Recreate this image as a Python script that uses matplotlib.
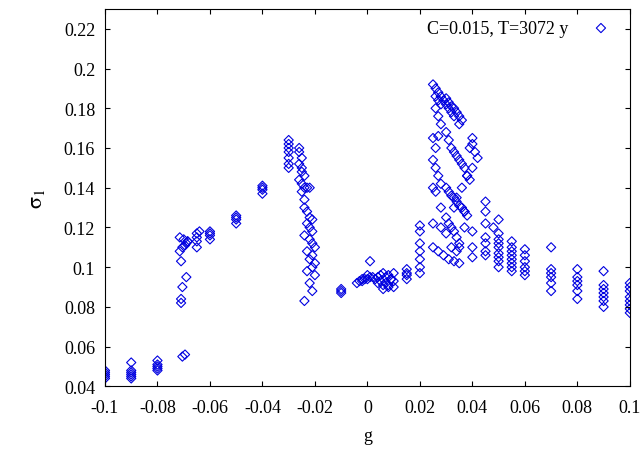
import matplotlib.pyplot as plt

# (g, sigma_1) values, grouped by cluster
g_left = [-0.1]*5 + [-0.09]*6 + [-0.08]*5
s_left = [0.044, 0.045, 0.046, 0.047, 0.048,
          0.044, 0.045, 0.046, 0.047, 0.048, 0.052,
          0.048, 0.049, 0.050, 0.051, 0.053]

g_rise = [-0.0705, -0.0695, -0.071, -0.071, -0.0705, -0.069, -0.071, -0.0715, -0.0705,
          -0.0695, -0.069, -0.0685, -0.07, -0.0715, -0.0685,
          -0.065, -0.065, -0.065, -0.065, -0.064,
          -0.06, -0.06, -0.06, -0.06,
          -0.05, -0.05, -0.05, -0.05,
          -0.04, -0.04, -0.04, -0.04]
s_rise = [0.055, 0.056, 0.082, 0.084, 0.090, 0.095, 0.103, 0.108, 0.110,
          0.111, 0.112, 0.113, 0.114, 0.115, 0.113,
          0.110, 0.113, 0.115, 0.117, 0.118,
          0.114, 0.116, 0.117, 0.118,
          0.122, 0.124, 0.125, 0.126,
          0.137, 0.139, 0.140, 0.141]

g_peak1 = [-0.03, -0.03, -0.03, -0.03, -0.03, -0.03, -0.03,
           -0.026, -0.026, -0.025, -0.026, -0.025, -0.025, -0.024, -0.026, -0.025,
           -0.024, -0.025, -0.023, -0.024, -0.022, -0.024, -0.023, -0.022, -0.021,
           -0.023, -0.022, -0.021, -0.024, -0.022, -0.021, -0.02, -0.023, -0.021,
           -0.022, -0.02, -0.021, -0.023, -0.02, -0.022, -0.024, -0.021]
s_peak1 = [0.150, 0.152, 0.155, 0.158, 0.160, 0.162, 0.164,
           0.160, 0.158, 0.155, 0.152, 0.150, 0.148, 0.146, 0.144, 0.142,
           0.140, 0.138, 0.140, 0.134, 0.140, 0.130, 0.128, 0.125, 0.124,
           0.122, 0.120, 0.118, 0.116, 0.114, 0.112, 0.110, 0.108, 0.106,
           0.104, 0.102, 0.100, 0.098, 0.096, 0.092, 0.083, 0.088]

g_mid = [-0.01, -0.01, -0.01, -0.004, -0.003, -0.002, -0.001, 0.0, 0.001, 0.002,
         -0.002, 0.0, 0.001, 0.003, 0.004, 0.005, 0.006, 0.007, 0.008, 0.009, 0.01,
         0.004, 0.005, 0.006, 0.007, 0.008, 0.009, 0.01, 0.008, 0.01, 0.006,
         0.015, 0.015, 0.015, 0.015, 0.02, 0.02, 0.02, 0.02, 0.02]
s_mid = [0.087, 0.088, 0.089, 0.092, 0.093, 0.093, 0.094, 0.094, 0.095, 0.095,
         0.094, 0.096, 0.103, 0.094, 0.092, 0.093, 0.091, 0.092, 0.090, 0.094, 0.093,
         0.095, 0.096, 0.097, 0.095, 0.096, 0.094, 0.097, 0.091, 0.090, 0.089,
         0.094, 0.096, 0.097, 0.099, 0.097, 0.100, 0.104, 0.108, 0.112]

g_peak2 = [0.025, 0.026, 0.026, 0.027, 0.027, 0.028, 0.028, 0.029, 0.03, 0.03,
           0.031, 0.031, 0.032, 0.032, 0.033, 0.033, 0.034, 0.035, 0.035, 0.036,
           0.026, 0.027, 0.028, 0.027, 0.026, 0.025, 0.025, 0.026, 0.027, 0.028,
           0.03, 0.031, 0.032, 0.033, 0.034, 0.035, 0.036, 0.037, 0.038, 0.039,
           0.03, 0.031, 0.032, 0.033, 0.034, 0.035, 0.036, 0.037, 0.038,
           0.025, 0.026, 0.028, 0.03, 0.031, 0.032, 0.033, 0.034, 0.035,
           0.025, 0.027, 0.029, 0.031, 0.033, 0.035,
           0.04, 0.04, 0.039, 0.041, 0.042, 0.04, 0.038, 0.036, 0.034, 0.033, 0.037,
           0.02, 0.02, 0.025, 0.028, 0.03, 0.032, 0.034, 0.035, 0.037]
s_peak2 = [0.192, 0.190, 0.186, 0.188, 0.184, 0.186, 0.182, 0.184, 0.185, 0.182,
           0.183, 0.180, 0.181, 0.178, 0.180, 0.176, 0.178, 0.176, 0.172, 0.174,
           0.180, 0.176, 0.172, 0.166, 0.160, 0.165, 0.154, 0.150, 0.146, 0.142,
           0.168, 0.164, 0.160, 0.158, 0.156, 0.154, 0.152, 0.150, 0.146, 0.144,
           0.140, 0.138, 0.136, 0.135, 0.133, 0.131, 0.130, 0.128, 0.126,
           0.140, 0.138, 0.130, 0.125, 0.122, 0.120, 0.118, 0.115, 0.112,
           0.110, 0.108, 0.106, 0.104, 0.103, 0.102,
           0.165, 0.162, 0.160, 0.158, 0.155, 0.150, 0.146, 0.140, 0.135, 0.130, 0.128,
           0.118, 0.121, 0.122, 0.120, 0.117, 0.110, 0.108, 0.110, 0.120]

g_tail = [0.04, 0.04, 0.04, 0.045, 0.045, 0.045, 0.045, 0.045, 0.045,
          0.05, 0.05, 0.05, 0.05, 0.05, 0.05, 0.05, 0.05,
          0.055, 0.055, 0.055, 0.055, 0.055, 0.055, 0.055, 0.055,
          0.06, 0.06, 0.06, 0.06, 0.06, 0.06,
          0.07, 0.07, 0.07, 0.07, 0.07, 0.07,
          0.08, 0.08, 0.08, 0.08, 0.08, 0.08,
          0.09, 0.09, 0.09, 0.09, 0.09, 0.09, 0.09,
          0.1, 0.1, 0.1, 0.1, 0.1, 0.1, 0.1, 0.1,
          0.048, 0.045, 0.05]
s_tail = [0.105, 0.110, 0.118, 0.106, 0.108, 0.112, 0.115, 0.122, 0.133,
          0.100, 0.103, 0.105, 0.107, 0.110, 0.112, 0.117, 0.124,
          0.098, 0.100, 0.102, 0.104, 0.106, 0.108, 0.110, 0.113,
          0.096, 0.098, 0.100, 0.103, 0.106, 0.109,
          0.088, 0.092, 0.095, 0.097, 0.099, 0.110,
          0.084, 0.088, 0.091, 0.093, 0.095, 0.099,
          0.080, 0.083, 0.085, 0.087, 0.089, 0.091, 0.098,
          0.077, 0.079, 0.081, 0.083, 0.085, 0.088, 0.090, 0.092,
          0.120, 0.128, 0.114]

g_all = g_left + g_rise + g_peak1 + g_mid + g_peak2 + g_tail
s_all = s_left + s_rise + s_peak1 + s_mid + s_peak2 + s_tail

plt.rcParams['font.family'] = 'Liberation Serif'
plt.rcParams['mathtext.fontset'] = 'stix'
fig, ax = plt.subplots(figsize=(6.44, 4.52), dpi=100)
fig.subplots_adjust(left=0.163, right=0.978, top=0.978, bottom=0.143)

ax.scatter(g_all, s_all, marker='D', s=22, facecolors='none',
           edgecolors='#0000e0', linewidths=0.8, label='C=0.015, T=3072 y')

ax.set_xlim(-0.1, 0.1)
ax.set_ylim(0.04, 0.23)
ax.set_xticks([-0.1, -0.08, -0.06, -0.04, -0.02, 0, 0.02, 0.04, 0.06, 0.08, 0.1])
ax.set_xticklabels(['-0.1', '-0.08', '-0.06', '-0.04', '-0.02', '0',
                    '0.02', '0.04', '0.06', '0.08', '0.1'])
ax.set_yticks([0.04, 0.06, 0.08, 0.1, 0.12, 0.14, 0.16, 0.18, 0.2, 0.22])
ax.set_yticklabels(['0.04', '0.06', '0.08', '0.1', '0.12', '0.14',
                    '0.16', '0.18', '0.2', '0.22'])
ax.tick_params(direction='in', top=True, right=True, labelsize=13)
ax.tick_params(axis='x', pad=9)
ax.tick_params(axis='y', pad=7)
ax.set_xlabel('g', fontsize=13, labelpad=8)
ax.set_ylabel(r'$\mathrm{\sigma}_1$', fontsize=16, labelpad=12)
ax.legend(loc='upper right', frameon=False, fontsize=13, markerfirst=False,
          handletextpad=0.8, borderaxespad=0.2)

fig.savefig('out.png')
